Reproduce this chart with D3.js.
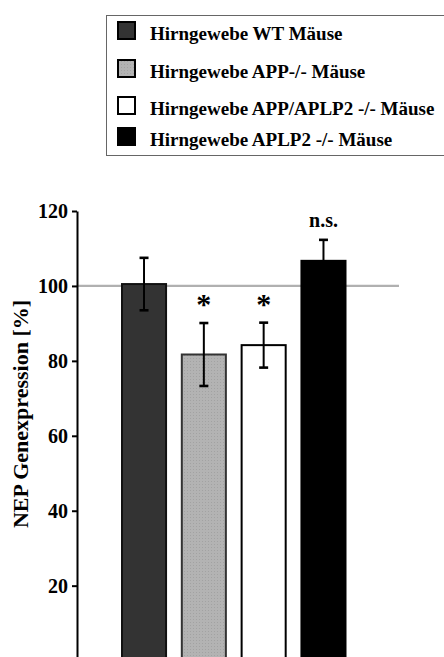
<!DOCTYPE html>
<html>
<head>
<meta charset="utf-8">
<script src="https://cdn.jsdelivr.net/npm/d3@7"></script>
<style>
  html, body { margin: 0; padding: 0; background: #fff; }
  svg { display: block; }
  text { font-family: "Liberation Serif", "Times New Roman", serif; font-weight: bold; fill: #000; }
</style>
</head>
<body>
<svg id="chart" width="444" height="657"></svg>
<script>
// Groups (legend labels) and NEP expression relative to WT, with SD
const groups = [
  "Hirngewebe WT Mäuse",
  "Hirngewebe APP-/- Mäuse",
  "Hirngewebe APP/APLP2 -/- Mäuse",
  "Hirngewebe APLP2 -/- Mäuse"
];
const values = [100.5, 81.7, 84.2, 106.7];
const errors = [7.0, 8.4, 6.0, 5.6];
const significance = ["", "*", "*", "n.s."];
const yTicks = [20, 40, 60, 80, 100, 120];
const referenceValue = 100;
const yLabel = "NEP Genexpression [%]";

const fills = ["#333333", "url(#dots)", "#ffffff", "#000000"];
const strokes = ["#111111", "#333333", "#000000", "#000000"];

const svg = d3.select("#chart");

// fine dotted texture for the grey bar
const defs = svg.append("defs");
const pat = defs.append("pattern")
  .attr("id", "dots").attr("patternUnits", "userSpaceOnUse")
  .attr("width", 3).attr("height", 3);
pat.append("rect").attr("width", 3).attr("height", 3).attr("fill", "#b3b3b3");
pat.append("rect").attr("x", 1).attr("y", 1).attr("width", 1).attr("height", 1).attr("fill", "#a2a2a2");

// scales
const y = d3.scaleLinear().domain([0, 120]).range([660.6, 211]);
const x = d3.scaleBand().domain(d3.range(groups.length))
  .range([121, 346.5]).paddingInner(0.23).paddingOuter(0);

// reference line at 100 %
svg.append("line")
  .attr("x1", 77).attr("x2", 399)
  .attr("y1", y(referenceValue)).attr("y2", y(referenceValue))
  .attr("stroke", "#b0b0b0").attr("stroke-width", 2.2);

// bars
svg.append("g").selectAll("rect").data(values).join("rect")
  .attr("x", (d, i) => x(i) + 1)
  .attr("y", d => y(d))
  .attr("width", x.bandwidth() - 2)
  .attr("height", d => y(0) - y(d))
  .attr("fill", (d, i) => fills[i])
  .attr("stroke", (d, i) => strokes[i])
  .attr("stroke-width", 2);

// error bars and significance marks
const eb = svg.append("g").attr("stroke", "#000");
values.forEach((v, i) => {
  const cx = x(i) + x.bandwidth() / 2;
  const top = y(v + errors[i]), bot = y(v - errors[i]);
  eb.append("line").attr("x1", cx).attr("x2", cx).attr("y1", top).attr("y2", bot).attr("stroke-width", 2);
  [top, bot].forEach(yy => {
    eb.append("line").attr("x1", cx - 4.5).attr("x2", cx + 4.5)
      .attr("y1", yy).attr("y2", yy).attr("stroke-width", 2.6);
  });
  if (significance[i]) {
    const isStar = significance[i] === "*";
    svg.append("text")
      .attr("x", cx)
      .attr("y", top - (isStar ? 9 : 13))
      .attr("text-anchor", "middle")
      .style("font-size", isStar ? "30px" : "20px")
      .text(significance[i]);
  }
});

// y axis
const axis = svg.append("g")
  .attr("transform", "translate(77,0)")
  .call(d3.axisLeft(y).tickValues(yTicks).tickFormat(d3.format("d"))
    .tickSizeInner(5).tickSizeOuter(0).tickPadding(4));
axis.select(".domain").attr("stroke", "#000").attr("stroke-width", 2);
axis.selectAll(".tick line").attr("stroke", "#000").attr("stroke-width", 2);
axis.selectAll(".tick text")
  .style("font-family", "'Liberation Serif', 'Times New Roman', serif")
  .style("font-weight", "bold").style("font-size", "20px").attr("fill", "#000");

// y axis title
svg.append("text")
  .attr("transform", "translate(28,414) rotate(-90)")
  .attr("text-anchor", "middle")
  .style("font-size", "22px")
  .text(yLabel);

// legend
const legend = svg.append("g");
legend.append("rect")
  .attr("x", 106.5).attr("y", 15.5).attr("width", 360).attr("height", 140)
  .attr("fill", "none").attr("stroke", "#666").attr("stroke-width", 1);
const rowTops = [22, 60, 97, 128];
groups.forEach((g, i) => {
  legend.append("rect")
    .attr("x", 118).attr("y", rowTops[i])
    .attr("width", 17).attr("height", 17)
    .attr("fill", fills[i]).attr("stroke", "#000").attr("stroke-width", 2);
  legend.append("text")
    .attr("x", 150).attr("y", rowTops[i] + 17.5)
    .style("font-size", "19px")
    .text(g);
});
</script>
</body>
</html>
